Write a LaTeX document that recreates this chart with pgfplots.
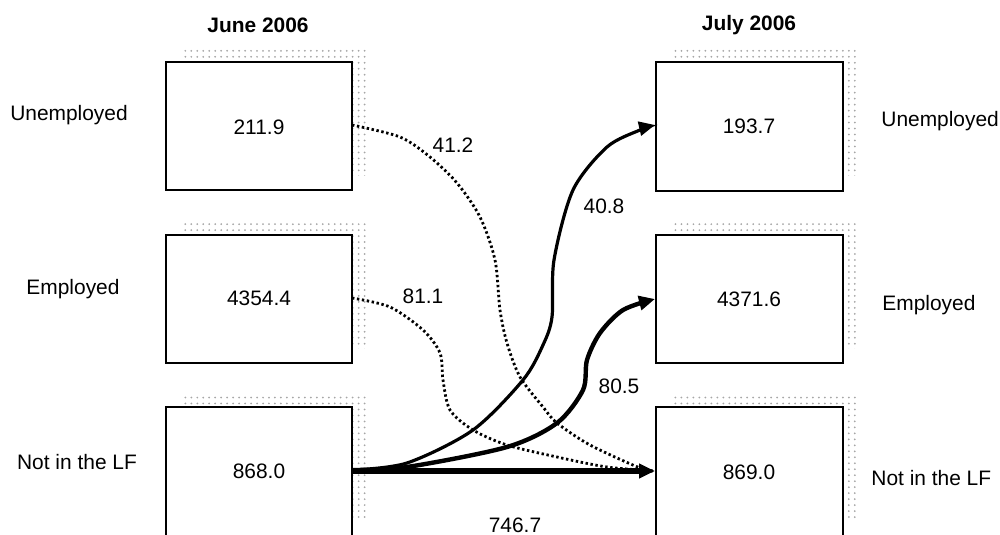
\documentclass[border=0pt]{standalone}
\usepackage{fontspec}
\setmainfont{Liberation Sans}
\usepackage{pgfplots}
\pgfplotsset{compat=1.18}
\usetikzlibrary{arrows.meta,patterns}
\begin{document}
\begin{tikzpicture}
\useasboundingbox (0,0) rectangle (500bp,267.5bp);
\begin{axis}[at={(0,0)}, anchor=south west, scale only axis,
  width=500bp, height=267.5bp,
  xmin=0, xmax=1000, ymin=0, ymax=535, y dir=reverse,
  hide axis, clip=true]
% shadows
\addplot[draw=none, pattern=dots, pattern color=gray!70] coordinates {(182,47) (368,47) (368,175) (182,175)} -- cycle;
\addplot[draw=none, pattern=dots, pattern color=gray!70] coordinates {(182,220) (368,220) (368,348) (182,348)} -- cycle;
\addplot[draw=none, pattern=dots, pattern color=gray!70] coordinates {(182,393) (368,393) (368,520) (182,520)} -- cycle;
\addplot[draw=none, pattern=dots, pattern color=gray!70] coordinates {(672,47) (859,47) (859,175) (672,175)} -- cycle;
\addplot[draw=none, pattern=dots, pattern color=gray!70] coordinates {(672,220) (859,220) (859,348) (672,348)} -- cycle;
\addplot[draw=none, pattern=dots, pattern color=gray!70] coordinates {(672,393) (859,393) (859,520) (672,520)} -- cycle;
% boxes
\addplot[draw=black, line width=1.2bp, fill=white] coordinates {(166,62) (352,62) (352,190) (166,190)} -- cycle;
\addplot[draw=black, line width=1.2bp, fill=white] coordinates {(166,235) (352,235) (352,363) (166,363)} -- cycle;
\addplot[draw=black, line width=1.2bp, fill=white] coordinates {(166,407) (352,407) (352,560) (166,560)} -- cycle;
\addplot[draw=black, line width=1.2bp, fill=white] coordinates {(656,62) (843,62) (843,191) (656,191)} -- cycle;
\addplot[draw=black, line width=1.2bp, fill=white] coordinates {(656,235) (843,235) (843,363) (656,363)} -- cycle;
\addplot[draw=black, line width=1.2bp, fill=white] coordinates {(656,407) (843,407) (843,560) (656,560)} -- cycle;
% dotted flows
\addplot[smooth, line width=1.4bp, dash pattern=on 1.2bp off 1.3bp] coordinates {(352,125) (400,137) (430,157) (457,183) (480,217) (495,260) (500,310) (507,343) (520,377) (543,407) (557,423) (590,445) (640,468) (655,471)};
\addplot[smooth, line width=1.4bp, dash pattern=on 1.2bp off 1.3bp] coordinates {(352,298) (390,307) (423,330) (440,353) (443,380) (450,410) (473,430) (507,445) (557,457) (607,467) (655,471)};
% solid flows
\addplot[smooth, line width=1.6bp, -{Triangle[length=8bp,width=7bp]}] coordinates {(352,470) (407,463) (473,430) (523,380) (543,345) (552,317) (554,260) (573,190) (607,147) (640,130) (655,125)};
\addplot[smooth, line width=2.2bp, -{Triangle[length=8bp,width=7bp]}] coordinates {(352,470) (407,467) (507,447) (557,423) (583,390) (587,360) (600,333) (623,310) (655,299)};
\addplot[line width=2.6bp, -{Triangle[length=8bp,width=7bp]}] coordinates {(352,471) (655,471)};
% texts
\begin{scope}[every node/.style={font=\fontsize{10.5}{12.6}\selectfont, inner sep=0pt}]
\node at (258,25) {\textbf{June 2006}};
\node at (749,25) {\textbf{July 2006}};
\node at (69,115) {Unemployed};
\node at (73,289) {Employed};
\node at (77,462) {Not in the LF};
\node[anchor=west] at (881,121) {Unemployed};
\node[anchor=west] at (882,305) {Employed};
\node[anchor=west] at (871,478) {Not in the LF};
\node at (259,127) {211.9};
\node at (259,298) {4354.4};
\node at (259,471) {868.0};
\node at (749,126) {193.7};
\node at (749,299) {4371.6};
\node at (749,472) {869.0};
\node at (453,145) {41.2};
\node at (604,206) {40.8};
\node at (423,296) {81.1};
\node at (619,386) {80.5};
\node at (515,525) {746.7};
\end{scope}
\end{axis}
\end{tikzpicture}
\end{document}
